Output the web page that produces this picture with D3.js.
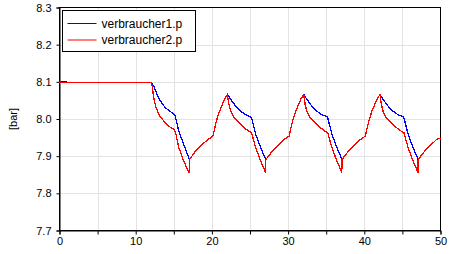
<!DOCTYPE html>
<html>
<head>
<meta charset="utf-8">
<script src="https://cdn.jsdelivr.net/npm/d3@7"></script>
<style>
  body { margin: 0; background: #fff; }
  text { font-family: "Liberation Sans", Arial, sans-serif; }
</style>
</head>
<body>
<div id="chart"></div>
<script>
// verbraucher1.p (blue)
const p1Time = [0, 0.4, 0.9, 1.0, 12.05, 12.37, 12.8, 13.25, 13.9, 14.57, 15.13, 15.2, 15.66, 16.3, 17.05,
  17.9, 18.8, 19.5, 20.13, 20.58, 21.0, 21.66, 22.03,
  22.46, 23.1, 23.76, 24.4, 25.1, 25.2, 25.75, 26.4, 27.07,
  27.95, 28.82, 29.5, 30.13, 30.58, 31.0, 31.66, 32.05,
  32.46, 33.1, 33.76, 34.4, 35.1, 35.2, 35.75, 36.4, 37.07,
  37.95, 38.82, 39.5, 40.13, 40.58, 41.0, 41.66, 42.05,
  42.46, 43.1, 43.76, 44.4, 45.1, 45.2, 45.75, 46.4, 47.07,
  47.95, 48.82, 49.5, 50.0];
const p1Value = [8.100, 8.101, 8.101, 8.098, 8.098, 8.088, 8.066, 8.048, 8.030, 8.020, 8.010, 8.006, 7.967, 7.932, 7.891,
  7.915, 7.933, 7.945, 7.954, 7.994, 8.021, 8.053, 8.066,
  8.053, 8.035, 8.021, 8.012, 8.006, 8.003, 7.959, 7.923, 7.891,
  7.914, 7.932, 7.945, 7.954, 7.994, 8.021, 8.053, 8.066,
  8.053, 8.035, 8.021, 8.012, 8.006, 8.003, 7.959, 7.923, 7.891,
  7.914, 7.932, 7.945, 7.954, 7.994, 8.021, 8.053, 8.066,
  8.053, 8.035, 8.021, 8.012, 8.006, 8.003, 7.959, 7.923, 7.891,
  7.914, 7.932, 7.945, 7.949];

// verbraucher2.p (red)
const p2Time = [0, 0.35, 12.05, 12.16, 12.37, 12.6, 13.03, 13.7, 14.3, 15.0, 15.2, 15.66, 16.3, 16.97, 17.05, 17.07,
  17.9, 18.8, 19.5, 20.13, 20.58, 21.0, 21.66, 22.03,
  22.24, 22.46, 22.9, 23.55, 24.2, 24.87, 25.2, 25.75, 26.4, 27.05, 27.07,
  27.95, 28.82, 29.5, 30.13, 30.58, 31.0, 31.66, 32.05,
  32.24, 32.46, 32.9, 33.55, 34.2, 34.87, 35.2, 35.75, 36.4, 37.05, 37.07,
  37.95, 38.82, 39.5, 40.13, 40.58, 41.0, 41.66, 42.05,
  42.24, 42.46, 42.9, 43.55, 44.2, 44.87, 45.2, 45.75, 46.4, 47.05, 47.07,
  47.95, 48.82, 49.5, 50.0];
const p2Value = [8.100, 8.098, 8.098, 8.088, 8.057, 8.035, 8.012, 7.994, 7.981, 7.972, 7.966, 7.923, 7.887, 7.856, 7.856, 7.891,
  7.915, 7.933, 7.945, 7.954, 7.994, 8.021, 8.053, 8.066,
  8.039, 8.021, 8.003, 7.990, 7.977, 7.967, 7.963, 7.923, 7.887, 7.856, 7.891,
  7.914, 7.932, 7.945, 7.954, 7.994, 8.021, 8.053, 8.066,
  8.039, 8.021, 8.003, 7.990, 7.977, 7.967, 7.963, 7.923, 7.887, 7.856, 7.891,
  7.914, 7.932, 7.945, 7.954, 7.994, 8.021, 8.053, 8.066,
  8.039, 8.021, 8.003, 7.990, 7.977, 7.967, 7.963, 7.923, 7.887, 7.856, 7.891,
  7.914, 7.932, 7.945, 7.949];

const xTicks = [0, 10, 20, 30, 40, 50];
const xMinor = [5, 15, 25, 35, 45];
const yTicks = [7.7, 7.8, 7.9, 8.0, 8.1, 8.2, 8.3];
const seriesNames = ["verbraucher1.p", "verbraucher2.p"];
const seriesColors = ["#0000ff", "#ff0000"];

const width = 449, height = 254;

const x = d3.scaleLinear().domain([0, 50]).range([59.5, 440.5]);
const y = d3.scaleLinear().domain([7.7, 8.3]).range([230.5, 7.5]);

const svg = d3.select("#chart")
  .append("svg")
  .attr("width", width)
  .attr("height", height);

// grid
const grid = svg.append("g").attr("stroke", "#e3e3e3").attr("stroke-width", 1);
grid.selectAll(".gx")
  .data(d3.range(5, 50, 5))
  .enter().append("line")
  .attr("x1", (d) => Math.round(x(d)) + 0.5)
  .attr("x2", (d) => Math.round(x(d)) + 0.5)
  .attr("y1", y(8.3))
  .attr("y2", y(7.7));
grid.selectAll(".gy")
  .data(yTicks.slice(1, -1))
  .enter().append("line")
  .attr("y1", (d) => Math.round(y(d)) + 0.5)
  .attr("y2", (d) => Math.round(y(d)) + 0.5)
  .attr("x1", x(0))
  .attr("x2", x(50));

// axes
svg.append("g")
  .attr("transform", `translate(0, ${y(7.7)})`)
  .call(d3.axisBottom(x).tickValues(xTicks).tickFormat(d3.format("d")).tickSize(4).tickPadding(3));
svg.append("g")
  .attr("transform", `translate(0, ${y(7.7)})`)
  .call(d3.axisBottom(x).tickValues(xMinor).tickFormat("").tickSize(4))
  .select(".domain").remove();

svg.append("g")
  .attr("transform", `translate(${x(0)}, 0)`)
  .call(d3.axisLeft(y).tickValues(yTicks).tickFormat(d3.format(".1f")).tickSize(3).tickPadding(5));

svg.selectAll(".tick text")
  .style("font-size", "11px")
  .style("fill", "#000");
svg.selectAll(".domain, .tick line").attr("stroke", "#000");

// frame
svg.append("rect")
  .attr("x", x(0))
  .attr("y", y(8.3))
  .attr("width", x(50) - x(0))
  .attr("height", y(7.7) - y(8.3))
  .attr("fill", "none")
  .attr("stroke", "#000");

svg.append("text")
  .attr("transform", `translate(17, ${y(8.0)}) rotate(-90)`)
  .attr("text-anchor", "middle")
  .style("font-size", "11px")
  .text("[bar]");

// lines (aliased like the original plot)
const line = d3.line()
  .x((d) => x(d[0]))
  .y((d) => y(d[1]));

const series = [
  d3.zip(p1Time, p1Value),
  d3.zip(p2Time, p2Value)
];

svg.selectAll(".series")
  .data(series)
  .enter().append("path")
  .attr("d", line)
  .attr("fill", "none")
  .attr("stroke", (d, i) => seriesColors[i])
  .attr("stroke-width", 1.3)
  .attr("shape-rendering", "crispEdges");

// legend
const legend = svg.append("g");
legend.append("rect")
  .attr("x", 62.5)
  .attr("y", 10.5)
  .attr("width", 133)
  .attr("height", 41)
  .attr("fill", "#fff")
  .attr("stroke", "#000");

const items = legend.selectAll(".item")
  .data(seriesNames)
  .enter().append("g")
  .attr("transform", (d, i) => `translate(0, ${23.5 + i * 16.5})`);
items.append("line")
  .attr("x1", 67.5)
  .attr("x2", 96.5)
  .attr("stroke", (d, i) => seriesColors[i])
  .attr("stroke-width", 1);
items.append("text")
  .attr("x", 101.5)
  .attr("dy", "0.35em")
  .style("font-size", "12px")
  .text((d) => d);
</script>
</body>
</html>
